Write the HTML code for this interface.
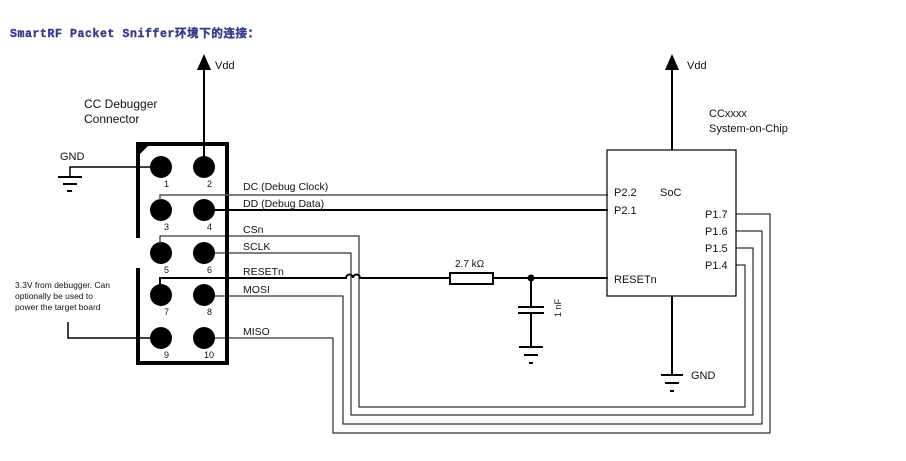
<!DOCTYPE html>
<html><head><meta charset="utf-8"><style>
html,body{margin:0;padding:0;background:#fff;}
svg{display:block;}
text{font-family:"Liberation Sans",Arial,sans-serif;fill:#111;}
</style></head><body>
<svg width="906" height="461" viewBox="0 0 906 461" xmlns="http://www.w3.org/2000/svg">
<text x="10" y="37" font-weight="bold" font-size="11.5" letter-spacing="0.6" style="font-family:'Liberation Mono','Noto Sans CJK SC',monospace;fill:#3a3a8c;stroke:#3a3a8c;stroke-width:0.4">SmartRF Packet Sniffer环境下的连接：</text>

<!-- Vdd left -->
<line x1="204" y1="68" x2="204" y2="167" stroke="#000" stroke-width="2"/>
<polygon points="204,54 197,70 211,70" fill="#000"/>
<text x="215" y="69" font-size="11">Vdd</text>
<text x="84" y="108" font-size="12">CC Debugger</text>
<text x="84" y="123" font-size="12">Connector</text>

<!-- connector box -->
<path d="M138,238 V144 H227 V363 H138 V268" fill="none" stroke="#000" stroke-width="4"/>
<polygon points="138,144 150,144 138,156" fill="#000"/>

<!-- GND left -->
<polyline points="160,167 70,167 70,177" fill="none" stroke="#000" stroke-width="1.5"/>
<line x1="58" y1="177" x2="82" y2="177" stroke="#000" stroke-width="2"/>
<line x1="63" y1="184" x2="77" y2="184" stroke="#000" stroke-width="2"/>
<line x1="67" y1="191" x2="72" y2="191" stroke="#000" stroke-width="2"/>
<text x="60" y="160" font-size="11">GND</text>

<!-- pins -->
<g fill="#000">
<circle cx="161" cy="167" r="11"/><circle cx="204" cy="167" r="11"/>
<circle cx="161" cy="210" r="11"/><circle cx="204" cy="210" r="11"/>
<circle cx="161" cy="253" r="11"/><circle cx="204" cy="253" r="11"/>
<circle cx="161" cy="295" r="11"/><circle cx="204" cy="295" r="11"/>
<circle cx="161" cy="338" r="11"/><circle cx="204" cy="338" r="11"/>
</g>
<g font-size="9">
<text x="164" y="187">1</text><text x="207" y="187">2</text>
<text x="164" y="230">3</text><text x="207" y="230">4</text>
<text x="164" y="273">5</text><text x="207" y="273">6</text>
<text x="164" y="315">7</text><text x="207" y="315">8</text>
<text x="164" y="358">9</text><text x="204" y="358">10</text>
</g>

<!-- signal lines -->
<g fill="none" stroke="#000">
<polyline points="160,200 160,195 608,195" stroke="#555" stroke-width="1.5"/>
<polyline points="204,210 608,210" stroke-width="2"/>
<polyline points="160,242 160,236 359,236 359,407 745,407 745,265 736,265" stroke-width="1"/>
<polyline points="204,253 351,253 351,415 753,415 753,248 736,248" stroke-width="1"/>
<path d="M160,285 V278 H346 A3.5,3.5 0 0 1 353,278 A3.5,3.5 0 0 1 360,278 H450" stroke-width="2"/>
<line x1="493" y1="278" x2="608" y2="278" stroke-width="2"/>
<rect x="450" y="273" width="43" height="11" stroke-width="2" fill="#fff"/>
<polyline points="204,296 343,296 343,424 762,424 762,231 736,231" stroke-width="1"/>
<polyline points="204,338 333,338 333,433 770,433 770,214 736,214" stroke-width="1"/>
<polyline points="68,322 68,338 160,338" stroke-width="1.5"/>
<line x1="531" y1="278" x2="531" y2="307" stroke-width="2"/>
<line x1="518" y1="307" x2="544" y2="307" stroke-width="2"/>
<line x1="518" y1="313" x2="544" y2="313" stroke-width="2"/>
<line x1="531" y1="313" x2="531" y2="347" stroke-width="2"/>
<line x1="519" y1="347" x2="543" y2="347" stroke-width="2"/>
<line x1="524" y1="355" x2="538" y2="355" stroke-width="2"/>
<line x1="529" y1="363" x2="533" y2="363" stroke-width="2"/>
</g>
<circle cx="531" cy="278" r="3.5" fill="#000"/>
<text x="455" y="267" font-size="10">2.7 kΩ</text>
<text transform="translate(561,317) rotate(-90)" font-size="9">1 nF</text>

<g font-size="10.5">
<text x="243" y="190">DC (Debug Clock)</text>
<text x="243" y="207">DD (Debug Data)</text>
<text x="243" y="233">CSn</text>
<text x="243" y="250">SCLK</text>
<text x="243" y="275">RESETn</text>
<text x="243" y="293">MOSI</text>
<text x="243" y="335">MISO</text>
</g>
<g font-size="8.5">
<text x="15" y="288">3.3V from debugger. Can</text>
<text x="15" y="299">optionally be used to</text>
<text x="15" y="310">power the target board</text>
</g>

<!-- SoC -->
<line x1="672" y1="68" x2="672" y2="150" stroke="#000" stroke-width="2"/>
<polygon points="672,54 665,70 679,70" fill="#000"/>
<text x="687" y="69" font-size="11">Vdd</text>
<text x="709" y="117" font-size="11">CCxxxx</text>
<text x="709" y="132" font-size="11">System-on-Chip</text>
<rect x="607" y="150" width="129" height="146" fill="none" stroke="#000" stroke-width="1.2"/>
<g font-size="11">
<text x="614" y="196">P2.2</text>
<text x="660" y="196">SoC</text>
<text x="614" y="214">P2.1</text>
<text x="705" y="218">P1.7</text>
<text x="705" y="235">P1.6</text>
<text x="705" y="252">P1.5</text>
<text x="705" y="269">P1.4</text>
<text x="614" y="283">RESETn</text>
<text x="691" y="379">GND</text>
</g>
<line x1="672" y1="296" x2="672" y2="375" stroke="#000" stroke-width="2"/>
<line x1="661" y1="375" x2="683" y2="375" stroke="#000" stroke-width="2"/>
<line x1="665" y1="383" x2="679" y2="383" stroke="#000" stroke-width="2"/>
<line x1="670" y1="391" x2="674" y2="391" stroke="#000" stroke-width="2"/>
</svg>
</body></html>
